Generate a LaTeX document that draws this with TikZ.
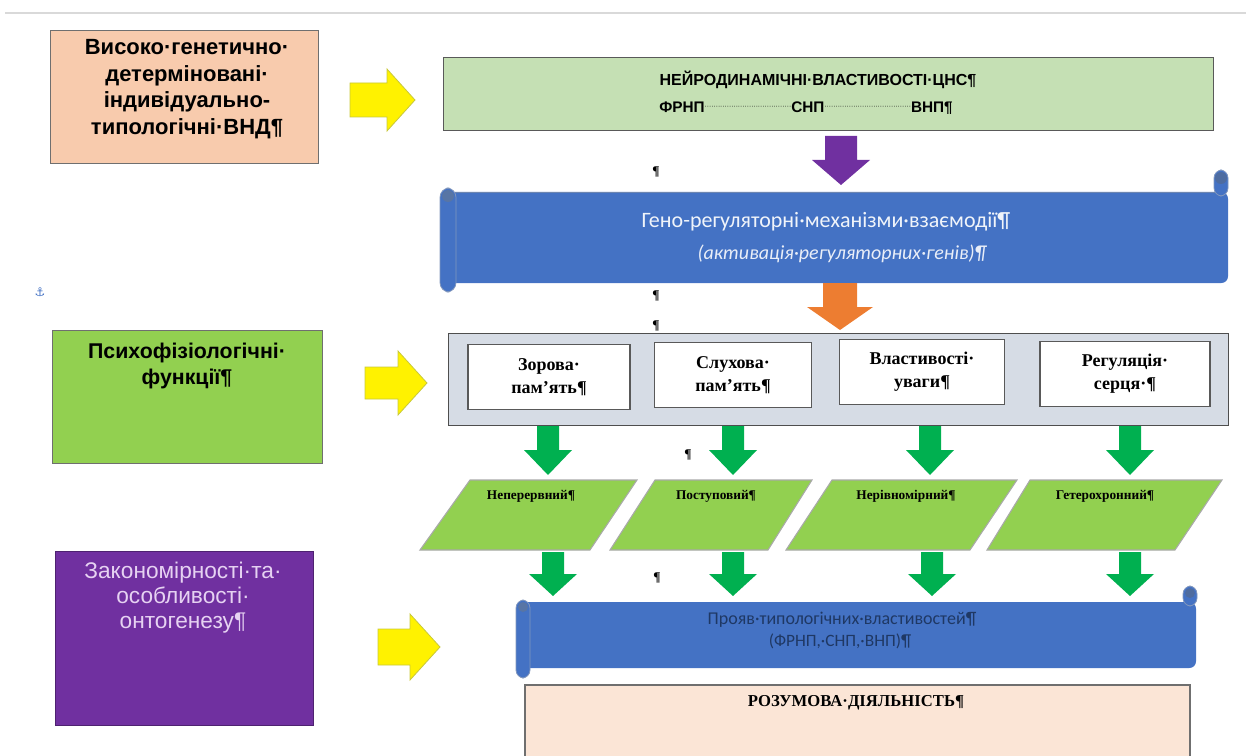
\documentclass[tikz,border=0pt]{standalone}
\usepackage{fontspec}
\setmainfont{Liberation Serif}
\setsansfont{Liberation Sans}
\newfontfamily\calfont{Carlito}
\newfontfamily\symfont{DejaVu Sans}
\definecolor{peachA}{HTML}{F8CBAD}
\definecolor{peachB}{HTML}{FBE5D6}
\definecolor{greenL}{HTML}{C5E0B4}
\definecolor{greenM}{HTML}{92D050}
\definecolor{greenA}{HTML}{00B050}
\definecolor{purpleA}{HTML}{7030A0}
\definecolor{blueA}{HTML}{4472C4}
\definecolor{blueD}{HTML}{2F528F}
\definecolor{orangeA}{HTML}{ED7D31}
\definecolor{contA}{HTML}{D6DCE5}
\definecolor{yellowB}{HTML}{C8C83C}
\definecolor{lilac}{HTML}{E6D2F2}
\definecolor{navy}{HTML}{1F3864}
\definecolor{edge}{HTML}{6F6F6F}
\tikzset{
  box/.style={draw=edge, line width=1pt, inner sep=0pt},
  sanstxt/.style={font=\sffamily\bfseries, align=center, inner sep=0pt},
  sertxt/.style={font=\bfseries, align=center, inner sep=0pt},
  pmark/.style={font=\fontsize{10}{10}\selectfont\bfseries, inner sep=0pt},
}
% right block arrow: color, x1, yc, x2, shaft half, head half, head length
\newcommand{\rblk}[7]{\fill[#1, draw=yellowB, line width=0.6pt] ({#2},{#3-#5}) -- ({#4-#7},{#3-#5}) -- ({#4-#7},{#3-#6}) -- ({#4},{#3}) -- ({#4-#7},{#3+#6}) -- ({#4-#7},{#3+#5}) -- ({#2},{#3+#5}) -- cycle;}
% down block arrow: color, xc, y1, y2, shaft half, head half, head length
\newcommand{\dblk}[7]{\fill[#1] ({#2-#5},{#3}) -- ({#2+#5},{#3}) -- ({#2+#5},{#4-#7}) -- ({#2+#6},{#4-#7}) -- ({#2},{#4}) -- ({#2-#6},{#4-#7}) -- ({#2-#5},{#4-#7}) -- cycle;}
\newcommand{\dotlead}{\raisebox{0.45ex}{\fontsize{5}{5}\selectfont\mdseries ·······································}}
\begin{document}
\begin{tikzpicture}[x=0.75pt,y=-0.75pt]
\useasboundingbox (0,0) rectangle (1246,756);
\begin{scope}
\clip (0,0) rectangle (1246,756);
% top rule
\draw[gray!30, line width=2.2pt] (5,13) -- (1246,13);

% ---------- left boxes ----------
\node[box, fill=peachA, minimum width=268*0.75pt, minimum height=133*0.75pt, anchor=north west] (gen) at (50,30) {};
\node[sanstxt, font=\sffamily\bfseries\fontsize{16.5}{20}\selectfont, anchor=north] (gent) at (187,39) {Високо·генетично·\\детерміновані·\\індивідуально-\\типологічні·ВНД¶};

\node[box, fill=greenM, minimum width=270*0.75pt, minimum height=133*0.75pt, anchor=north west] (psy) at (52,330) {};
\node[sanstxt, font=\sffamily\bfseries\fontsize{16}{19.5}\selectfont, anchor=north] (psyt) at (187,343) {Психофізіологічні·\\функції¶};

\node[box, fill=purpleA, draw=purpleA!70!black, minimum width=258*0.75pt, minimum height=174*0.75pt, anchor=north west] (ont) at (55,551) {};
\node[sanstxt, font=\sffamily\fontsize{17}{18.8}\selectfont, text=lilac, anchor=north] (ontt) at (183,562) {Закономірності·та·\\особливості·\\онтогенезу¶};

% anchor symbol
\node[font=\symfont\fontsize{9}{9}\selectfont, text=blueA, inner sep=0pt] (anc) at (40,292) {⚓};

% ---------- yellow arrows ----------
\rblk{yellow}{350}{100}{415}{17}{31}{28}
\rblk{yellow}{365}{383}{427}{16}{32}{29}
\rblk{yellow}{378}{647}{440}{18}{33}{30}

% ---------- top green box ----------
\node[box, fill=greenL, draw=edge!80!black, minimum width=770*0.75pt, minimum height=73*0.75pt, anchor=north west] (neu) at (443,57) {};
\node[sanstxt, font=\sffamily\bfseries\fontsize{12}{13}\selectfont] (neu1) at (818,80) {НЕЙРОДИНАМІЧНІ·ВЛАСТИВОСТІ·ЦНС¶};
\node[sanstxt, font=\sffamily\bfseries\fontsize{11.5}{13}\selectfont] (neu2) at (806,108) {ФРНП\dotlead СНП\dotlead ВНП¶};

% purple arrow
\dblk{purpleA}{841}{136}{185}{16}{29}{25}

% ---------- scroll 1 ----------
\fill[blueA, rounded corners=5pt] (445,192) rectangle (1228,283);
\draw[blueD!70, line width=0.6pt] (450,192) -- (1215,192);
\fill[blueA, draw=blueD!60, line width=0.6pt, rounded corners=7pt] (440,188) rectangle (456,292);
\fill[blueD!80] (448,196) circle (6);
\fill[blueA, draw=blueD!60, line width=0.6pt, rounded corners=6pt] (1214,170) rectangle (1228,196);
\fill[blueD!85] (1221,178) circle (6);
\node[font=\calfont\fontsize{16.5}{18}\selectfont, text=white!92!blueA, inner sep=0pt] (gre1) at (826,222) {Гено-регуляторні·механізми·взаємодії¶};
\node[font=\calfont\itshape\fontsize{15}{16}\selectfont, text=white!88!blueA, inner sep=0pt] (gre2) at (842,254) {(активація·регуляторних·генів)¶};

% orange arrow
\dblk{orangeA}{840}{283}{330}{17}{33}{23}

% ---------- container ----------
\node[box, fill=contA, draw=edge!70!black, minimum width=780*0.75pt, minimum height=92*0.75pt, anchor=north west] (cont) at (448,333) {};
\tikzset{wbox/.style={draw=edge!80!black, line width=1.4pt, fill=white, inner sep=0pt, align=center, font=\bfseries\fontsize{13.5}{17}\selectfont}}
\node[wbox, minimum width=162*0.75pt, minimum height=65*0.75pt] (zor) at (549,377) {Зорова·\\пам'ять¶};
\node[wbox, minimum width=157*0.75pt, minimum height=65*0.75pt] (sluh) at (733,375) {Слухова·\\пам'ять¶};
\node[wbox, minimum width=165*0.75pt, minimum height=65*0.75pt] (uv) at (922,372) {Властивості·\\уваги¶};
\node[wbox, minimum width=170*0.75pt, minimum height=65*0.75pt] (reg) at (1125,374) {Регуляція·\\серця·¶};

% green arrows row 1
\dblk{greenA}{548}{426}{475}{11}{24}{25}
\dblk{greenA}{733}{426}{475}{11}{24}{25}
\dblk{greenA}{930}{426}{475}{11}{24}{25}
\dblk{greenA}{1130}{426}{475}{11}{24}{25}

% ---------- parallelograms ----------
\tikzset{para/.style={fill=greenM, draw=edge!60, line width=0.8pt}}
\draw[para] (470,480) -- (637,480) -- (590,550) -- (420,550) -- cycle;
\draw[para] (655,480) -- (812,480) -- (768,550) -- (610,550) -- cycle;
\draw[para] (832,480) -- (1017,480) -- (970,550) -- (786,550) -- cycle;
\draw[para] (1030,480) -- (1222,480) -- (1175,550) -- (987,550) -- cycle;
\tikzset{ptxt/.style={sertxt, font=\bfseries\fontsize{10}{11}\selectfont}}
\node[ptxt] (p1) at (531,496) {Неперервний¶};
\node[ptxt] (p2) at (716,496) {Поступовий¶};
\node[ptxt] (p3) at (906,496) {Нерівномірний¶};
\node[ptxt] (p4) at (1105,496) {Гетерохронний¶};

% green arrows row 2
\dblk{greenA}{553}{552}{596}{11}{24}{22}
\dblk{greenA}{733}{552}{596}{11}{24}{22}
\dblk{greenA}{932}{552}{596}{11}{24}{22}
\dblk{greenA}{1130}{552}{596}{11}{24}{22}

% ---------- scroll 2 ----------
\fill[blueA, rounded corners=5pt] (521,602) rectangle (1196,668);
\fill[blueA, draw=blueD!60, line width=0.6pt, rounded corners=6pt] (516,600) rectangle (530,678);
\fill[blueD!80] (523,607) circle (5);
\fill[blueA, draw=blueD!60, line width=0.6pt, rounded corners=6pt] (1183,586) rectangle (1197,606);
\fill[blueD!85] (1190,593) circle (5);
\node[font=\calfont\fontsize{13.5}{14}\selectfont, text=navy, inner sep=0pt] (pr1) at (842,620) {Прояв·типологічних·властивостей¶};
\node[font=\calfont\fontsize{13}{14}\selectfont, text=navy, inner sep=0pt] (pr2) at (840,641) {(ФРНП,·СНП,·ВНП)¶};

% ---------- bottom box ----------
\fill[peachB, draw=edge, line width=1pt] (525,760) -- (525,685) -- (1190,685) -- (1190,760);
\node[sertxt, font=\bfseries\fontsize{12.5}{14}\selectfont] (roz) at (856,703) {РОЗУМОВА·ДІЯЛЬНІСТЬ¶};

% stray paragraph marks
\node[pmark] (m1) at (656,172) {¶};
\node[pmark] (m2) at (656,296) {¶};
\node[pmark] (m3) at (656,326) {¶};
\node[pmark] (m4) at (688,455) {¶};
\node[pmark] (m5) at (657,578) {¶};
\end{scope}
\end{tikzpicture}
\end{document}
